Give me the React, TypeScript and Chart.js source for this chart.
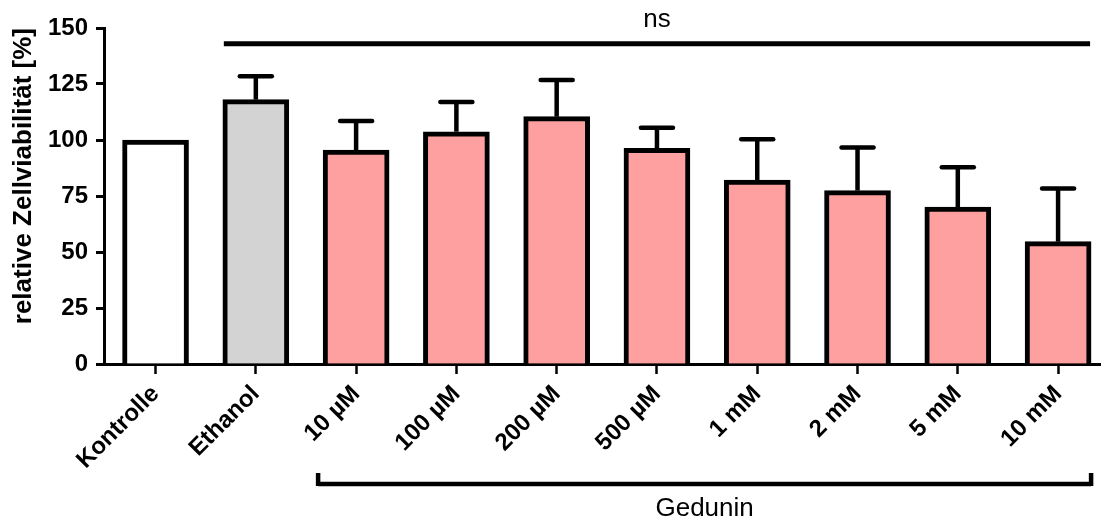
import React, { useEffect, useRef } from 'react';
import { Chart, registerables } from 'chart.js';

Chart.register(...registerables);

const categories = ['Kontrolle', 'Ethanol', '10 µM', '100 µM', '200 µM', '500 µM', '1 mM', '2 mM', '5 mM', '10 mM'];
const means = [100, 118, 95.5, 103.7, 110.4, 96.3, 82.1, 77.4, 70, 54.6];
const sdUpper = [0, 10.5, 13, 13.3, 16.4, 9.2, 18.2, 19.2, 17.8, 23.8];
const barColors = ['#FFFFFF', '#D3D3D3', '#FFA0A0', '#FFA0A0', '#FFA0A0', '#FFA0A0', '#FFA0A0', '#FFA0A0', '#FFA0A0', '#FFA0A0'];
const yTitle = 'relative Zellviabilität [%]';
const nsLabel = 'ns';
const nsLevel = 143;
const nsFrom = 1;
const nsTo = 9;
const groupLabel = 'Gedunin';
const groupFrom = 2;
const groupTo = 9;

const FONT = "'Liberation Sans', Arial, Helvetica, sans-serif";

const annotPlugin = {
  id: 'annot',
  afterDatasetsDraw(chart: any) {
    const ctx = chart.ctx;
    const meta = chart.getDatasetMeta(0);
    const ys = chart.scales.y;
    ctx.save();
    ctx.strokeStyle = '#000';
    ctx.lineWidth = 4.5;
    meta.data.forEach((el: any, i: number) => {
      const err = sdUpper[i];
      if (!err) return;
      const x = el.x;
      const y0 = ys.getPixelForValue(means[i]);
      const y1 = ys.getPixelForValue(means[i] + err);
      ctx.lineCap = 'butt';
      ctx.beginPath();
      ctx.moveTo(x, y0);
      ctx.lineTo(x, y1);
      ctx.stroke();
      ctx.lineCap = 'round';
      ctx.beginPath();
      ctx.moveTo(x - 16, y1);
      ctx.lineTo(x + 16, y1);
      ctx.stroke();
    });
    ctx.restore();
  },
  afterDraw(chart: any) {
    const ctx = chart.ctx;
    const xs = chart.scales.x;
    const ys = chart.scales.y;
    const area = chart.chartArea;
    ctx.save();
    ctx.strokeStyle = '#000';
    ctx.fillStyle = '#000';
    // ns line
    const ly = ys.getPixelForValue(nsLevel);
    const lx0 = xs.getPixelForValue(nsFrom) - 32;
    const lx1 = xs.getPixelForValue(nsTo) + 32;
    ctx.lineWidth = 5;
    ctx.lineCap = 'butt';
    ctx.beginPath();
    ctx.moveTo(lx0, ly);
    ctx.lineTo(lx1, ly);
    ctx.stroke();
    ctx.font = `26px ${FONT}`;
    ctx.textAlign = 'center';
    ctx.textBaseline = 'alphabetic';
    ctx.fillText(nsLabel, (lx0 + lx1) / 2, ly - 17);
    // Gedunin bracket
    const by = area.bottom + 120;
    const bx0 = xs.getPixelForValue(groupFrom) - 38;
    const bx1 = xs.getPixelForValue(groupTo) + 33;
    ctx.lineWidth = 4.5;
    ctx.beginPath();
    ctx.moveTo(bx0, by - 11);
    ctx.lineTo(bx0, by + 2);
    ctx.moveTo(bx0, by);
    ctx.lineTo(bx1, by);
    ctx.moveTo(bx1, by - 11);
    ctx.lineTo(bx1, by + 2);
    ctx.stroke();
    ctx.fillText(groupLabel, (bx0 + bx1) / 2, by + 32);
    ctx.restore();
  },
};

export default function App() {
  const ref = useRef<HTMLCanvasElement>(null);
  useEffect(() => {
    if (!ref.current) return;
    Chart.defaults.font.family = FONT;
    const chart = new Chart(ref.current, {
      type: 'bar',
      data: {
        datasets: [
          {
            data: categories.map((_, i) => ({ x: i, y: means[i] })) as any,
            backgroundColor: barColors,
            borderColor: '#000',
            borderWidth: 5,
            barThickness: 66,
            borderSkipped: 'start',
          },
        ],
      },
      options: {
        animation: false,
        responsive: false,
        layout: { padding: { top: 28, right: 2, left: 0, bottom: 0 } },
        plugins: { legend: { display: false }, tooltip: { enabled: false } },
        scales: {
          x: {
            type: 'linear',
            min: -0.514,
            max: 9.418,
            offset: false,
            grid: { display: true, drawOnChartArea: false, drawTicks: true, tickLength: 10, tickWidth: 2.5, tickColor: '#000', offset: false },
            border: { display: true, color: '#000', width: 3 },
            ticks: {
              autoSkip: false,
              maxRotation: 45,
              minRotation: 45,
              padding: 6,
              color: '#000',
              font: { family: FONT, size: 24, weight: 'bold' },
              callback: (v: any) => categories[v] ?? '',
            },
            afterBuildTicks: (s: any) => {
              s.ticks = categories.map((_, i) => ({ value: i }));
            },
            afterFit: (s: any) => {
              s.height = 158;
            },
          } as any,
          y: {
            min: 0,
            max: 150,
            grid: { display: true, drawOnChartArea: false, drawTicks: true, tickLength: 8, tickWidth: 3, tickColor: '#000' },
            border: { display: true, color: '#000', width: 3 },
            ticks: { stepSize: 25, padding: 8, color: '#000', font: { family: FONT, size: 24, weight: 'bold' } },
            title: {
              display: true,
              text: yTitle,
              align: 'end',
              color: '#000',
              font: { family: FONT, size: 26, weight: 'bold' },
              padding: { top: 8, bottom: 0 },
            },
            afterFit: (s: any) => {
              s.width = 104;
            },
          } as any,
        },
      },
      plugins: [annotPlugin],
    });
    return () => chart.destroy();
  }, []);
  return (
    <div style={{ position: 'absolute', left: 0, top: 0, width: 1102, height: 522, background: '#fff' }}>
      <canvas ref={ref} width={1102} height={522} style={{ display: 'block', width: 1102, height: 522 }} />
    </div>
  );
}
